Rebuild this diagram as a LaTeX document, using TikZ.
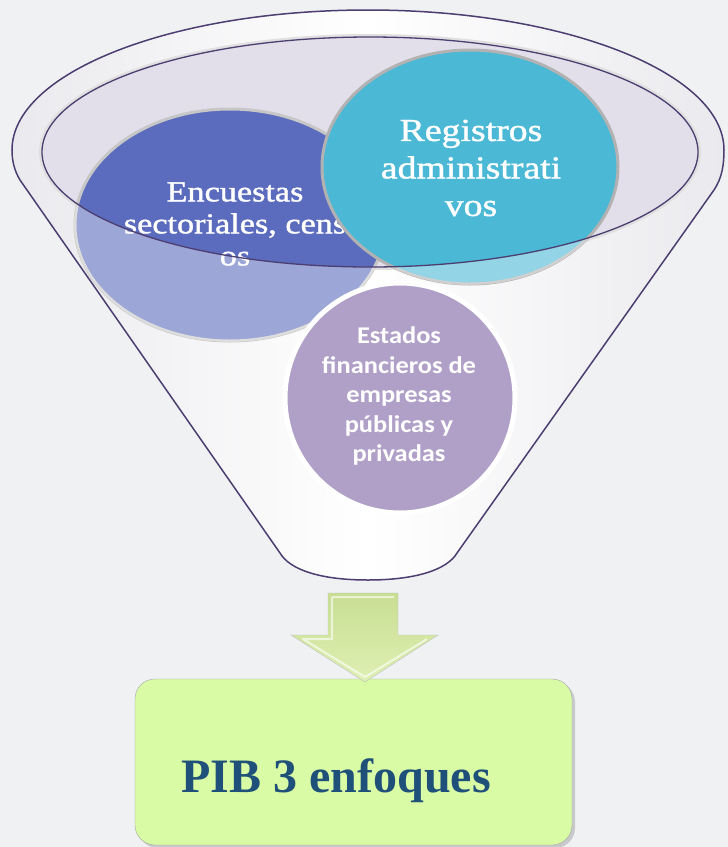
\documentclass[tikz,border=0pt]{standalone}
\usepackage{fontspec}
\setmainfont{Liberation Serif}
\newfontfamily\gara[FakeStretch=1.18, FakeBold=1.3]{Liberation Serif}
\newfontfamily\cali[FakeStretch=1.1]{Carlito}
\usetikzlibrary{shapes.geometric, shadows}

\definecolor{bgcolor}{RGB}{240,241,243}
\definecolor{rimline}{RGB}{76,62,112}
\definecolor{mouth}{RGB}{226,223,234}
\definecolor{bodygrey}{RGB}{234,234,238}
\definecolor{encblue}{RGB}{91,107,189}
\definecolor{regcyan}{RGB}{75,184,214}
\definecolor{estpurple}{RGB}{176,160,200}
\definecolor{arrowtop}{RGB}{200,222,146}
\definecolor{arrowbot}{RGB}{222,240,180}
\definecolor{boxgreen}{RGB}{217,251,165}
\definecolor{pibblue}{RGB}{31,80,122}

\tikzset{
  oval/.style={ellipse, inner sep=0pt, line width=3pt},
  circtext/.style={text=white, align=center, inner sep=0pt},
}

\begin{document}
\begin{tikzpicture}[x=1pt, y=-1pt]
  \fill[bgcolor] (0,0) rectangle (728,847);
  \useasboundingbox (0,0) rectangle (728,847);

  % funnel body and mouth
  \shadedraw[draw=rimline, line width=1.5pt, left color=bodygrey, right color=bodygrey, middle color=white]
    (12,150) arc[start angle=180, end angle=360, x radius=356, y radius=140]
    .. controls (724,165) and (722,178) .. (714,190) -- (457,553)
    .. controls (447,570) and (415,580) .. (368,580)
    .. controls (321,580) and (290,570) .. (280,553) -- (20,180)
    .. controls (14,170) and (12,160) .. (12,150) -- cycle;
  \draw[black!12, line width=6pt] (370,152) ellipse [x radius=328, y radius=115];
  \fill[mouth] (370,152) ellipse [x radius=328, y radius=115];

  % sources
  \node[oval, draw=black!22, fill=encblue, minimum width=310pt, minimum height=232pt] (encuestas) at (230,225) {};
  \node[circtext, font=\gara\fontsize{29}{32}\selectfont] (enctext) at (235,224) {Encuestas\\sectoriales, cens\\os};
  \node[oval, draw=black!30, fill=regcyan, minimum width=296pt, minimum height=234pt] (registros) at (470,167) {};
  \node[circtext, font=\gara\fontsize{32}{37.5}\selectfont] (regtext) at (471,168) {Registros\\administrati\\vos};

  % front of the funnel
  \begin{scope}
    \clip (encuestas.center) ellipse [x radius=156, y radius=117] (registros.center) ellipse [x radius=149, y radius=118];
    \fill[white, opacity=0.4, even odd rule] (0,0) rectangle (728,847) (370,152) ellipse [x radius=328, y radius=115];
  \end{scope}
  \draw[rimline, line width=1.3pt] (370,152) ellipse [x radius=328, y radius=115];

  \node[oval, draw=white, line width=5pt, fill=estpurple, minimum size=230pt] (estados) at (400,398) {};
  \node[circtext, font=\cali\bfseries\fontsize{24}{29.5}\selectfont] (esttext) at (399,396) {Estados\\financieros de\\empresas\\públicas y\\privadas};

  % result
  \node[draw=black!35, fill=boxgreen, rounded corners=20pt, minimum width=437pt, minimum height=166pt,
    drop shadow={opacity=0.35, shadow xshift=3pt, shadow yshift=-3pt}] (pib) at (353.5,762) {};
  \node[text=pibblue, font=\bfseries\fontsize{48}{52}\selectfont] (pibtext) at (336,781) {PIB 3 enfoques};

  \shadedraw[draw=black!25, top color=arrowtop, bottom color=arrowbot]
    (328,593) -- (398,593) -- (398,635) -- (438,635) -- (365,682) -- (291,635) -- (328,635) -- cycle;
  \draw[white, opacity=0.6, line width=2pt, line join=round]
    (332,597) -- (394,597) (332,597) -- (332,639) -- (303,639) -- (365,677) -- (427,639);
\end{tikzpicture}
\end{document}
